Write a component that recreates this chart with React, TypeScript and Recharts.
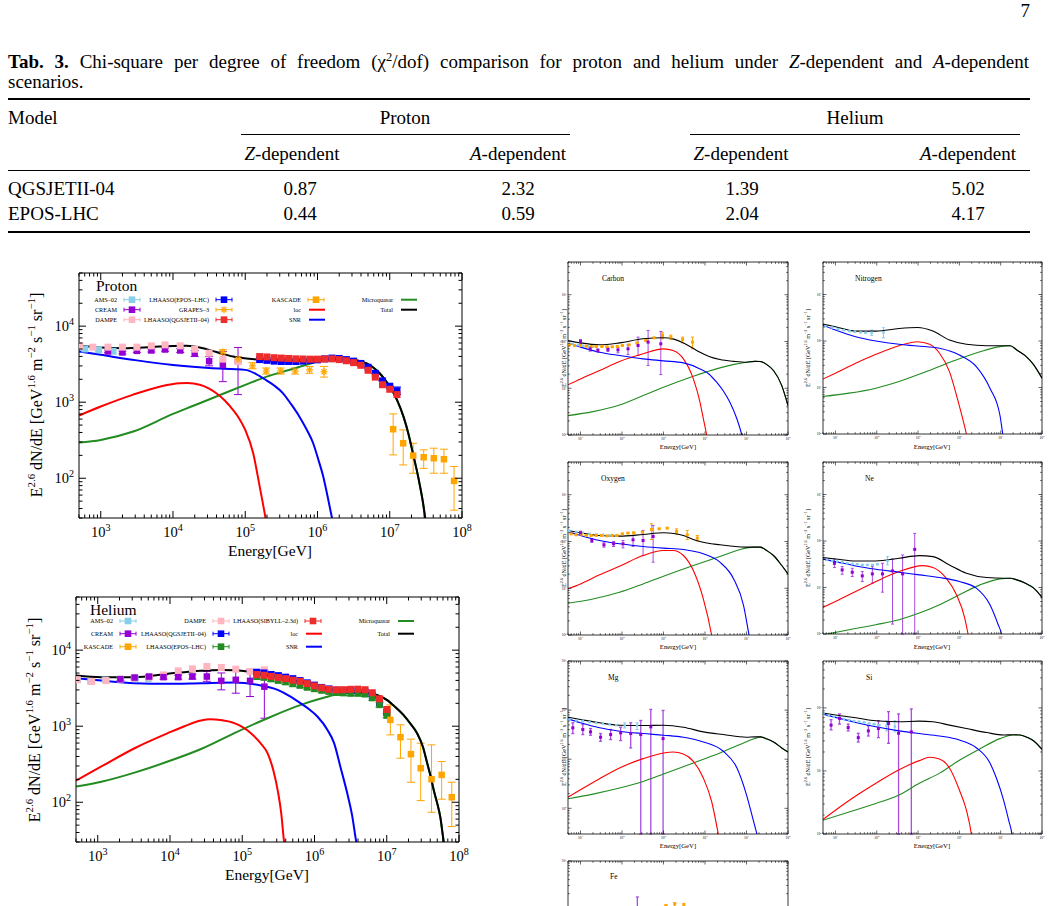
import React from 'react'
import { ComposedChart, Line, Scatter, XAxis, YAxis, ErrorBar } from 'recharts'

// every point: [log10 E (GeV), log10 E^2.6 dN/dE, log10 low, log10 high]
type P = number[]

// ---------------- Proton ----------------
const pTotal: P[] = [[2.7,3.746],[3.0,3.72],[3.31,3.71],[3.7,3.725],[4.0,3.74],[4.19,3.742],[4.37,3.72],[4.6,3.66],[4.83,3.6],[5.05,3.57],[5.29,3.557],[5.6,3.55],[5.99,3.55],[6.2,3.56],[6.35,3.566],[6.55,3.55],[6.68,3.51],[6.78,3.45],[6.86,3.38],[6.93,3.3],[7.0,3.206],[7.1,3.03],[7.19,2.81],[7.26,2.58],[7.32,2.33],[7.38,2.08],[7.42,1.89],[7.46,1.68],[7.49,1.48],[7.52,1.3]]
const pSnr: P[] = [[2.7,3.667],[3.0,3.623],[3.5,3.55],[4.0,3.49],[4.5,3.45],[5.0,3.425],[5.15,3.37],[5.29,3.29],[5.4,3.22],[5.52,3.12],[5.63,2.98],[5.75,2.81],[5.85,2.64],[5.94,2.46],[6.01,2.25],[6.08,2.02],[6.14,1.76],[6.2,1.48],[6.24,1.3]]
const pLoc: P[] = [[2.7,2.825],[3.0,2.943],[3.45,3.1],[3.8,3.2],[4.09,3.25],[4.2,3.252],[4.37,3.23],[4.5,3.18],[4.6,3.118],[4.72,3.02],[4.83,2.9],[4.92,2.78],[5.0,2.636],[5.11,2.33],[5.2,1.89],[5.28,1.48],[5.32,1.25]]
const pMq: P[] = [[2.7,2.469],[3.0,2.504],[3.45,2.614],[4.0,2.846],[4.3,2.96],[4.6,3.075],[5.0,3.228],[5.25,3.32],[5.52,3.4],[5.8,3.48],[6.01,3.535],[6.2,3.56],[6.35,3.566],[6.55,3.55],[6.68,3.51],[6.78,3.45],[6.86,3.38],[6.93,3.3],[7.0,3.206],[7.1,3.03],[7.19,2.81],[7.26,2.58],[7.32,2.33],[7.38,2.08],[7.42,1.89],[7.46,1.68],[7.49,1.48],[7.52,1.3]]

const pAms: P[] = [[2.78,3.7],[2.97,3.69],[3.17,3.67]]
const pDampe: P[] = [[2.71,3.741],[2.89,3.724],[3.1,3.724],[3.3,3.724],[3.5,3.724],[3.7,3.741],[3.89,3.754],[4.1,3.741],[4.3,3.697],[4.5,3.645],[4.69,3.566],[4.9,3.535]]
const pCream: P[] = [[3.1,3.667,3.65,3.685],[3.3,3.654,3.635,3.672],[3.5,3.675,3.655,3.695],[3.7,3.68,3.66,3.7],[3.89,3.693,3.67,3.715],[4.1,3.68,3.655,3.705],[4.3,3.64,3.6,3.68],[4.5,3.54,3.478,3.6],[4.69,3.49,3.27,3.667],[4.9,3.535,3.1,3.72]]
const pGrapes: P[] = [[4.69,3.66,3.63,3.69],[4.9,3.566,3.53,3.6],[5.1,3.478,3.44,3.52],[5.29,3.41,3.37,3.45],[5.49,3.41,3.37,3.45],[5.69,3.41,3.37,3.45],[5.89,3.425,3.38,3.47],[6.09,3.4,3.33,3.47]]
const pLhEpos: P[] = [[5.2,3.56],[5.3,3.55],[5.4,3.54],[5.5,3.535],[5.6,3.535],[5.7,3.535],[5.8,3.54],[5.9,3.55],[6.0,3.557],[6.1,3.57],[6.2,3.58],[6.3,3.575],[6.4,3.56],[6.5,3.54],[6.6,3.51],[6.7,3.46],[6.8,3.38],[6.9,3.28],[7.0,3.21],[7.1,3.15,3.1,3.2]]
const pLhQgs: P[] = [[5.2,3.6],[5.3,3.595],[5.4,3.585],[5.5,3.58],[5.6,3.575],[5.7,3.57],[5.8,3.568],[5.9,3.566],[6.0,3.566],[6.1,3.568],[6.2,3.57],[6.3,3.56],[6.4,3.545],[6.5,3.52],[6.6,3.485],[6.7,3.42],[6.8,3.33],[6.9,3.23],[7.0,3.17],[7.1,3.1]]
const pKascade: P[] = [[7.047,2.645,2.307,2.846],[7.186,2.46,2.175,2.636],[7.324,2.298,2.066,2.46],[7.47,2.276,2.13,2.373],[7.61,2.263,2.066,2.395],[7.75,2.25,2.066,2.382],[7.89,1.965,1.58,2.154]]

// ---------------- Helium ----------------
const hTotal: P[] = [[2.7,3.667],[3.05,3.645],[3.51,3.645],[3.97,3.69],[4.43,3.73],[4.7,3.74],[4.9,3.735],[5.12,3.71],[5.35,3.67],[5.58,3.63],[5.8,3.585],[6.04,3.544],[6.15,3.5],[6.27,3.478],[6.5,3.447],[6.7,3.44],[6.82,3.425],[6.92,3.39],[7.0,3.346],[7.12,3.25],[7.23,3.149],[7.33,3.03],[7.42,2.908],[7.5,2.73],[7.56,2.513],[7.61,2.33],[7.65,2.16],[7.7,1.98],[7.74,1.81],[7.79,1.47],[7.82,1.3]]
const hSnr: P[] = [[2.7,3.632],[3.05,3.6],[3.51,3.566],[3.97,3.557],[4.43,3.566],[4.89,3.575],[5.21,3.544],[5.49,3.478],[5.65,3.4],[5.81,3.3],[5.93,3.22],[6.04,3.127],[6.18,2.95],[6.27,2.78],[6.36,2.46],[6.45,2.13],[6.52,1.83],[6.58,1.47],[6.62,1.3]]
const hLoc: P[] = [[2.7,2.285],[3.05,2.47],[3.51,2.71],[3.97,2.908],[4.2,3.0],[4.43,3.075],[4.56,3.09],[4.7,3.08],[4.89,3.04],[5.0,2.99],[5.12,2.908],[5.25,2.78],[5.35,2.645],[5.43,2.42],[5.49,2.16],[5.54,1.85],[5.58,1.47],[5.61,1.3]]
const hMq: P[] = [[2.7,2.206],[3.05,2.27],[3.51,2.39],[3.97,2.535],[4.43,2.7],[4.89,2.908],[5.35,3.105],[5.81,3.28],[6.04,3.35],[6.27,3.41],[6.5,3.44],[6.7,3.44],[6.82,3.425],[6.92,3.39],[7.0,3.346],[7.12,3.25],[7.23,3.149],[7.33,3.03],[7.42,2.908],[7.5,2.73],[7.56,2.513],[7.61,2.33],[7.65,2.16],[7.7,1.98],[7.74,1.81],[7.79,1.47],[7.82,1.3]]

const hAms: P[] = [[2.72,3.61],[2.9,3.59],[3.1,3.61],[3.31,3.62],[3.52,3.62],[3.7,3.62]]
const hDampe: P[] = [[2.715,3.61],[2.917,3.588],[3.115,3.6],[3.313,3.618],[3.506,3.632],[3.713,3.645],[3.91,3.675],[4.114,3.728],[4.31,3.754],[4.51,3.785],[4.71,3.772],[4.91,3.75],[5.108,3.72],[5.306,3.741]]
const hCream: P[] = [[3.313,3.618,3.6,3.636],[3.51,3.64,3.62,3.66],[3.71,3.653,3.63,3.675],[3.91,3.645,3.62,3.67],[4.114,3.645,3.62,3.67],[4.31,3.653,3.62,3.685],[4.51,3.653,3.59,3.72],[4.71,3.596,3.478,3.7],[4.91,3.61,3.434,3.74],[5.108,3.596,3.39,3.74],[5.306,3.52,3.105,3.74]]
const hLhSib: P[] = [[5.2,3.68],[5.3,3.67],[5.4,3.655],[5.5,3.64],[5.6,3.625],[5.7,3.605],[5.8,3.59],[5.9,3.56],[6.0,3.53],[6.1,3.505],[6.2,3.485],[6.3,3.478],[6.4,3.48],[6.5,3.485],[6.6,3.487],[6.7,3.48],[6.8,3.44],[6.9,3.36],[7.0,3.22]]
const hLhQgs: P[] = [[5.2,3.71],[5.3,3.7],[5.4,3.68],[5.5,3.665],[5.6,3.645],[5.7,3.625],[5.8,3.6],[5.9,3.57],[6.0,3.54],[6.1,3.51],[6.2,3.49],[6.3,3.475],[6.4,3.47],[6.5,3.47],[6.6,3.465],[6.7,3.45],[6.8,3.4],[6.9,3.31],[7.0,3.18]]
const hLhEpos: P[] = [[5.2,3.65,3.62,3.68],[5.3,3.64,3.61,3.67],[5.4,3.62,3.59,3.65],[5.5,3.6,3.57,3.63],[5.6,3.58,3.55,3.61],[5.7,3.555,3.525,3.585],[5.8,3.535,3.505,3.565],[5.9,3.51,3.48,3.54],[6.0,3.49,3.46,3.52],[6.1,3.47,3.44,3.5],[6.2,3.455,3.425,3.485],[6.3,3.44,3.41,3.47],[6.4,3.435,3.405,3.465],[6.5,3.43,3.4,3.46],[6.6,3.43,3.4,3.46],[6.7,3.42,3.39,3.45],[6.8,3.37,3.34,3.4],[6.9,3.28,3.25,3.31],[7.0,3.14,3.11,3.17]]
const hKascade: P[] = [[7.05,3.083,2.886,3.28],[7.19,2.855,2.579,3.018],[7.335,2.632,2.263,2.83],[7.47,2.447,2.022,2.776],[7.62,2.303,1.868,2.754],[7.76,2.36,2.04,2.535],[7.9,2.066,1.68,2.263]]

// ---------------- Carbon ----------------
const cTotal: P[] = [[2.69,2.02],[3.0,1.97],[3.46,1.93],[3.94,1.97],[4.51,2.057],[5.0,2.079],[5.25,2.05],[5.48,1.97],[5.7,1.86],[5.88,1.77],[6.1,1.68],[6.36,1.614],[6.7,1.575],[7.0,1.557],[7.2,1.575],[7.33,1.571],[7.5,1.5],[7.65,1.379],[7.85,1.057],[8.0,0.629]]
const cSnr: P[] = [[2.69,1.97],[3.0,1.879],[3.46,1.771],[3.94,1.7],[4.51,1.629],[5.0,1.586],[5.48,1.543],[5.88,1.414],[6.1,1.3],[6.28,1.129],[6.45,0.93],[6.6,0.7],[6.77,0.343],[6.89,0],[6.95,-0.2]]
const cLoc: P[] = [[2.69,1.071],[3.0,1.2],[3.46,1.379],[3.94,1.571],[4.51,1.736],[5.0,1.843],[5.23,1.807],[5.48,1.629],[5.72,1.2],[5.88,0.7],[5.96,0.35],[6.04,0],[6.08,-0.2]]
const cMq: P[] = [[2.69,0.414],[3.3,0.5],[3.94,0.643],[4.51,0.843],[5.0,1.021],[5.72,1.257],[6.36,1.436],[6.7,1.51],[7.0,1.557],[7.2,1.575],[7.33,1.571],[7.5,1.5],[7.65,1.379],[7.85,1.057],[8.0,0.629]]
const cPurple: P[] = [[3.0,2.0,1.95,2.043],[3.234,1.843,1.793,1.879],[3.419,1.807,1.771,1.843],[3.661,1.829,1.786,1.864],[3.903,1.821,1.757,1.871],[4.145,1.843,1.721,1.929],[4.387,1.914,1.7,2.093],[4.629,1.986,1.486,2.236],[4.935,1.95,1.293,2.214]]
const cOrange: P[] = [[2.734,1.929],[2.855,1.914],[3.0,1.914],[3.137,1.9],[3.258,1.893],[3.379,1.893],[3.516,1.893],[3.637,1.886],[3.766,1.886],[3.887,1.893],[4.008,1.914],[4.169,1.929],[4.363,1.971],[4.573,2.021],[4.774,2.079],[4.976,2.129,2.057,2.186],[5.177,2.093,2.043,2.136],[5.46,2.043,1.971,2.093],[5.7,1.986,1.843,2.093]]
const cBlue: P[] = [[2.72,1.97],[2.81,1.95],[2.94,1.93],[3.06,1.91],[3.18,1.9],[3.3,1.89]]

// ---------------- Nitrogen ----------------
const nTotal: P[] = [[2.69,2.364],[3.0,2.307],[3.49,2.214],[3.98,2.214],[4.54,2.27],[4.99,2.29],[5.36,2.214],[5.76,2.02],[6.17,1.93],[6.66,1.9],[7.07,1.9],[7.23,1.9],[7.39,1.807],[7.6,1.68],[7.8,1.486],[8.0,1.2]]
const nSnr: P[] = [[2.69,2.343],[3.0,2.236],[3.49,2.093],[3.98,2.0],[4.54,1.929],[4.99,1.893],[5.52,1.843],[6.0,1.7],[6.41,1.45],[6.74,0.986],[6.98,0.414],[7.05,0],[7.1,-0.3]]
const nLoc: P[] = [[2.69,1.179],[3.0,1.307],[3.49,1.521],[3.98,1.714],[4.54,1.9],[4.99,1.986],[5.28,1.929],[5.52,1.736],[5.76,1.343],[5.97,0.7],[6.17,0],[6.22,-0.2]]
const nMq: P[] = [[2.69,0.807],[3.33,0.879],[3.98,0.986],[4.54,1.129],[5.2,1.343],[5.85,1.571],[6.5,1.771],[6.98,1.879],[7.23,1.9],[7.39,1.807],[7.6,1.68],[7.8,1.486],[8.0,1.2]]
const nBlue: P[] = [[2.756,2.321],[2.919,2.293],[3.065,2.257],[3.203,2.236],[3.341,2.214],[3.472,2.2],[3.61,2.186],[3.732,2.179],[3.878,2.179,2.121,2.236],[4.163,2.186,2.071,2.286]]

// ---------------- Oxygen ----------------
const oTotal: P[] = [[2.69,2.236],[3.0,2.186],[3.46,2.129],[3.94,2.114],[4.51,2.15],[5.0,2.186],[5.25,2.17],[5.48,2.129],[5.7,2.05],[5.88,2.0],[6.36,1.929],[7.0,1.879],[7.17,1.879],[7.33,1.879],[7.5,1.8],[7.65,1.7],[7.85,1.486],[8.0,1.307]]
const oSnr: P[] = [[2.69,2.214],[3.0,2.129],[3.46,2.021],[3.94,1.95],[4.51,1.893],[5.0,1.857],[5.48,1.829],[5.96,1.736],[6.36,1.557],[6.69,1.2],[6.93,0.629],[7.06,0],[7.1,-0.2]]
const oLoc: P[] = [[2.69,0.986],[3.0,1.093],[3.46,1.286],[3.94,1.471],[4.51,1.7],[5.0,1.807],[5.23,1.807],[5.48,1.7],[5.72,1.379],[5.96,0.771],[6.16,0],[6.2,-0.2]]
const oMq: P[] = [[2.69,0.679],[3.3,0.771],[3.94,0.914],[4.51,1.093],[5.0,1.257],[5.72,1.486],[6.36,1.679],[6.85,1.829],[7.17,1.879],[7.33,1.879],[7.5,1.8],[7.65,1.7],[7.85,1.486],[8.0,1.307]]
const oOrange: P[] = [[2.774,2.164],[2.895,2.143],[3.016,2.157],[3.137,2.129],[3.258,2.129],[3.379,2.129],[3.5,2.129],[3.637,2.121],[3.766,2.129],[3.879,2.129],[4.008,2.164],[4.145,2.179],[4.282,2.186],[4.492,2.2],[4.71,2.257,2.043,2.379],[4.895,2.271],[5.089,2.286],[5.315,2.214,2.157,2.271],[5.573,2.143,2.043,2.236],[5.815,2.071,2.014,2.129]]
const oPurple: P[] = [[3.0,2.186,2.15,2.22],[3.274,2.021,1.98,2.06],[3.565,1.929,1.879,1.971],[3.798,1.95,1.893,2.0],[4.024,1.95,1.864,2.021],[4.266,2.036,1.893,2.129],[4.508,2.021,1.7,2.236],[4.75,2.107,1.557,2.343]]
const oBlue: P[] = [[2.73,2.229],[2.895,2.207],[3.056,2.186],[3.218,2.164],[3.379,2.15],[3.54,2.143],[3.7,2.129],[3.863,2.129]]

// ---------------- Ne ----------------
const neTotal: P[] = [[2.69,1.643],[3.0,1.614],[3.49,1.571],[3.98,1.571],[4.54,1.629],[5.03,1.686],[5.36,1.664],[5.76,1.486],[6.17,1.307],[6.66,1.214],[7.07,1.2],[7.23,1.2],[7.39,1.164],[7.6,1.09],[7.8,0.986],[8.0,0.786]]
const neSnr: P[] = [[2.69,1.614],[3.0,1.557],[3.49,1.464],[3.98,1.393],[4.54,1.329],[5.03,1.271],[5.52,1.214],[6.0,1.129],[6.41,0.986],[6.74,0.629],[6.94,0.2],[7.02,0],[7.06,-0.2]]
const neLoc: P[] = [[2.69,0.571],[3.0,0.7],[3.49,0.914],[3.98,1.129],[4.54,1.343],[5.11,1.471],[5.36,1.429],[5.68,1.2],[5.93,0.843],[6.13,0.343],[6.21,0],[6.25,-0.2]]
const neMq: P[] = [[2.69,-0.02],[3.33,0.093],[3.98,0.2],[4.54,0.307],[5.03,0.45],[5.52,0.629],[6.0,0.843],[6.5,1.057],[6.98,1.186],[7.23,1.2],[7.39,1.164],[7.6,1.09],[7.8,0.986],[8.0,0.786]]
const nePurple: P[] = [[2.976,1.521,1.429,1.614],[3.163,1.379,1.286,1.45],[3.407,1.329,1.236,1.414],[3.65,1.25,1.129,1.343],[3.894,1.293,1.093,1.45],[4.138,1.293,0.9,1.521],[4.382,1.357,0.214,1.614],[4.626,1.293,0,1.7],[4.919,1.821,0,2.164]]
const neBlue: P[] = [[2.797,1.593],[2.919,1.571],[3.041,1.557],[3.163,1.543],[3.285,1.521],[3.407,1.507],[3.528,1.5],[3.65,1.486],[3.772,1.486],[3.894,1.486],[4.016,1.5],[4.26,1.571,1.486,1.664]]

// ---------------- Mg ----------------
const mgTotal: P[] = [[2.69,1.857],[3.0,1.809],[3.46,1.741],[3.94,1.693],[4.51,1.686],[5.0,1.693],[5.48,1.652],[5.96,1.557],[6.44,1.502],[7.0,1.448],[7.2,1.455],[7.33,1.455],[7.5,1.41],[7.65,1.352],[7.85,1.23],[8.0,1.148]]
const mgSnr: P[] = [[2.69,1.823],[3.0,1.741],[3.46,1.639],[3.94,1.571],[4.51,1.523],[5.0,1.489],[5.48,1.448],[5.96,1.352],[6.44,1.162],[6.77,0.821],[7.0,0.275],[7.15,-0.2],[7.25,-0.52],[7.3,-0.7]]
const mgLoc: P[] = [[2.69,0.221],[3.0,0.378],[3.46,0.603],[3.94,0.821],[4.51,1.012],[5.0,1.127],[5.23,1.148],[5.48,1.107],[5.72,0.957],[5.96,0.616],[6.16,0.139],[6.32,-0.52],[6.36,-0.7]]
const mgMq: P[] = [[2.69,0.194],[3.3,0.289],[3.94,0.412],[4.51,0.548],[5.0,0.698],[5.72,0.923],[6.36,1.127],[6.93,1.332],[7.2,1.42],[7.33,1.455],[7.5,1.41],[7.65,1.352],[7.85,1.23],[8.0,1.148]]
const mgPurple: P[] = [[2.815,1.639,1.523,1.741],[3.056,1.605,1.502,1.707],[3.242,1.557,1.489,1.625],[3.484,1.448,1.366,1.523],[3.726,1.502,1.4,1.605],[3.968,1.536,1.38,1.652],[4.21,1.523,1.23,1.741],[4.452,1.502,-0.52,1.789],[4.694,1.659,-0.52,2.014],[4.99,1.42,-0.52,1.993]]
const mgBlue: P[] = [[2.734,1.809],[2.895,1.789],[3.056,1.775],[3.218,1.755],[3.379,1.741],[3.54,1.727],[3.7,1.707],[3.863,1.693],[4.065,1.686,1.636,1.741],[4.363,1.686,1.605,1.741]]

// ---------------- Si ----------------
const siTotal: P[] = [[2.69,1.92],[3.0,1.888],[3.49,1.845],[3.98,1.796],[4.54,1.78],[5.03,1.791],[5.36,1.78],[5.76,1.727],[6.17,1.673],[6.66,1.609],[7.07,1.571],[7.3,1.575],[7.47,1.571],[7.65,1.53],[7.8,1.475],[8.0,1.341]]
const siSnr: P[] = [[2.69,1.904],[3.0,1.85],[3.49,1.77],[3.98,1.7],[4.54,1.636],[5.03,1.593],[5.52,1.555],[6.0,1.491],[6.41,1.368],[6.74,1.127],[6.9,0.88],[7.07,0.538],[7.2,0.2],[7.27,0],[7.3,-0.2]]
const siLoc: P[] = [[2.69,0.227],[3.0,0.377],[3.49,0.602],[3.98,0.806],[4.54,1.02],[5.03,1.164],[5.28,1.218],[5.52,1.191],[5.76,1.047],[6.0,0.698],[6.17,0.377],[6.29,0],[6.33,-0.2]]
const siMq: P[] = [[2.69,0.216],[3.33,0.35],[3.98,0.484],[4.54,0.618],[5.03,0.806],[5.52,0.966],[6.0,1.17],[6.5,1.352],[6.98,1.513],[7.3,1.57],[7.47,1.571],[7.65,1.53],[7.8,1.475],[8.0,1.341]]
const siPurple: P[] = [[2.894,1.727,1.652,1.813],[3.098,1.834,1.743,1.904],[3.309,1.689,1.636,1.743],[3.553,1.529,1.459,1.598],[3.797,1.636,1.555,1.716],[4.04,1.673,1.529,1.796],[4.285,1.754,1.438,1.941],[4.528,1.598,0,1.904],[4.837,1.62,0,1.984]]
const siBlue: P[] = [[2.715,1.904],[2.837,1.877],[2.959,1.861],[3.081,1.845],[3.203,1.823],[3.325,1.807],[3.447,1.791],[3.569,1.78],[3.691,1.77],[3.813,1.754],[3.935,1.743],[4.057,1.727],[4.236,1.716,1.636,1.796],[4.439,1.705,1.62,1.796]]

// ---------------- Fe (mostly below the page edge) ----------------
const fePurple: P[] = [[4.37,1.6,0.8,2.23]]
const feOrange: P[] = [[5.06,2.05],[5.27,2.08,2.0,2.11],[5.49,2.06,2.0,2.09]]

// table
const tableModels = ['QGSJETII-04', 'EPOS-LHC']
const protonZ = ['0.87', '0.44']
const protonA = ['2.32', '0.59']
const heliumZ = ['1.39', '2.04']
const heliumA = ['5.02', '4.17']

const SERIF = '"Liberation Serif", "Times New Roman", serif'
const COL = {
  loc: '#ff0000', snr: '#0000ff', mq: '#228b22', total: '#000000',
  ams: '#87ceeb', cream: '#9400d3', dampe: '#ffb6c1', orange: '#ffa500',
  lhBlue: '#0000ff', lhRed: '#ee2c2c', lhGreen: '#228b22', purpleErr: '#a64ce0',
}
const X_DOMAIN: [number, number] = [500, 1e8]

type Series = { pts: P[]; color: string; size: number; shape?: 'sq' | 'star'; err?: string; errW?: number }
type Spec = {
  box: [number, number, number, number]
  margin: { top: number; right: number; bottom: number; left: number }
  yDomain: [number, number]
  big: boolean
  xLabels?: boolean
  yLabelMax?: number
  curves: { pts: P[]; color: string }[]
  series: Series[]
}

const toCurve = (pts: P[]) => pts.map(([lx, ly]) => ({ x: 10 ** lx, y: 10 ** ly }))
const toPts = (pts: P[]) =>
  pts.map(([lx, ly, lo, hi]) => {
    const y = 10 ** ly
    return { x: 10 ** lx, y, err: lo === undefined ? [0, 0] : [y - 10 ** lo, 10 ** hi - y] }
  })

function logTicks(lo: number, hi: number) {
  const out: number[] = []
  for (let d = Math.floor(Math.log10(lo)); d <= Math.ceil(Math.log10(hi)); d++)
    for (let m = 1; m <= 9; m++) {
      const v = m * 10 ** d
      if (v >= lo * 0.999 && v <= hi * 1.001) out.push(v)
    }
  return out
}

function Pow({ x, y, e, fs, anchor }: { x: number; y: number; e: number; fs: number; anchor: string }) {
  return (
    <text x={x} y={y} textAnchor={anchor as any} fontSize={fs} fontFamily={SERIF} fill="#000">
      10<tspan dy={-fs * 0.42} fontSize={fs * 0.7}>{e}</tspan>
    </text>
  )
}

type Side = 'bottom' | 'top' | 'left' | 'right'
const makeTick = (side: Side, big: boolean, labels = true, labelMaxY = 1e9) => (props: any) => {
  const { x, y, payload } = props
  const v = Number(payload?.value)
  const e = Math.round(Math.log10(v))
  const major = Math.abs(Math.log10(v) - e) < 1e-6
  const L = big ? (major ? 7 : 3.5) : major ? 3.5 : 1.8
  let x2 = x
  let y2 = y
  if (side === 'bottom') y2 = y - L
  if (side === 'top') y2 = y + L
  if (side === 'left') x2 = x + L
  if (side === 'right') x2 = x - L
  const fs = big ? 14.5 : 3.6
  return (
    <g>
      <line x1={x} y1={y} x2={x2} y2={y2} stroke="#000" strokeWidth={big ? 1 : 0.6} />
      {labels && major && side === 'bottom' && <Pow x={x} y={y + (big ? 19 : 5)} e={e} fs={fs} anchor="middle" />}
      {labels && major && side === 'left' && y < labelMaxY && <Pow x={x - (big ? 5 : 1.5)} y={y + (big ? 5 : 1.3)} e={e} fs={fs} anchor="end" />}
    </g>
  )
}

const squareShape = (size: number, color: string) => (p: any) =>
  p.cx == null ? <g /> : <rect x={p.cx - size / 2} y={p.cy - size / 2} width={size} height={size} fill={color} />

const starShape = (size: number, color: string) => (p: any) => {
  if (p.cx == null) return <g />
  const r = size / 2
  const d = r * 0.72
  return (
    <g stroke={color} strokeWidth={1.2}>
      <line x1={p.cx - r} y1={p.cy} x2={p.cx + r} y2={p.cy} />
      <line x1={p.cx} y1={p.cy - r} x2={p.cx} y2={p.cy + r} />
      <line x1={p.cx - d} y1={p.cy - d} x2={p.cx + d} y2={p.cy + d} />
      <line x1={p.cx - d} y1={p.cy + d} x2={p.cx + d} y2={p.cy - d} />
    </g>
  )
}

function Plot({ spec }: { spec: Spec }) {
  const [left, top, w, h] = spec.box
  const big = spec.big
  const xt = logTicks(X_DOMAIN[0], X_DOMAIN[1])
  const yt = logTicks(spec.yDomain[0], spec.yDomain[1])
  const axisLine = { stroke: '#000', strokeWidth: big ? 1 : 0.8 }
  const common = { type: 'number' as const, scale: 'log' as const, allowDataOverflow: true, interval: 0 as const, tickLine: false, tickSize: 0, tickMargin: 0, axisLine }
  // axes are 1px thick, so every margin is one less than the plot offset
  const m = spec.margin
  const margin = { top: m.top - 1, right: m.right - 1, bottom: m.bottom - 1, left: m.left - 1 }
  return (
    <div style={{ position: 'absolute', left, top, width: w, height: h }}>
      <ComposedChart width={w} height={h} margin={margin}>
        <XAxis {...common} xAxisId="b" orientation="bottom" dataKey="x" domain={X_DOMAIN} ticks={xt} height={1} tick={makeTick('bottom', big, spec.xLabels !== false)} />
        <XAxis {...common} xAxisId="t" orientation="top" dataKey="x" domain={X_DOMAIN} ticks={xt} height={1} tick={makeTick('top', big)} />
        <YAxis {...common} yAxisId="l" orientation="left" dataKey="y" domain={spec.yDomain} ticks={yt} width={1} tick={makeTick('left', big, true, spec.yLabelMax)} />
        <YAxis {...common} yAxisId="r" orientation="right" dataKey="y" domain={spec.yDomain} ticks={yt} width={1} tick={makeTick('right', big)} />
        {spec.series.map((s, i) => (
          <Scatter
            key={'s' + i}
            xAxisId="b"
            yAxisId="l"
            data={toPts(s.pts)}
            fill={s.color}
            isAnimationActive={false}
            shape={s.shape === 'star' ? starShape(s.size, s.color) : squareShape(s.size, s.color)}
          >
            {s.pts.some((q) => q.length > 2) && (
              <ErrorBar dataKey="err" direction="y" stroke={s.err ?? s.color} strokeWidth={s.errW ?? 1} width={big ? 4 : 1.5} />
            )}
          </Scatter>
        ))}
        {spec.curves.map((c, i) => (
          <Line
            key={'c' + i}
            xAxisId="b"
            yAxisId="l"
            data={toCurve(c.pts)}
            dataKey="y"
            type="monotone"
            stroke={c.color}
            strokeWidth={big ? 2 : 1.1}
            dot={false}
            activeDot={false}
            isAnimationActive={false}
          />
        ))}
      </ComposedChart>
    </div>
  )
}

const curves4 = (loc: P[], snr: P[], mq: P[], total: P[]) => [
  { pts: mq, color: COL.mq },
  { pts: loc, color: COL.loc },
  { pts: snr, color: COL.snr },
  { pts: total, color: COL.total },
]

const protonSpec: Spec = {
  box: [0, 260, 480, 300], margin: { top: 13, right: 18, bottom: 42, left: 79 }, yDomain: [30, 5e4], big: true,
  curves: curves4(pLoc, pSnr, pMq, pTotal),
  series: [
    { pts: pAms, color: COL.ams, size: 7 },
    { pts: pCream, color: COL.cream, size: 6.5 },
    { pts: pDampe, color: COL.dampe, size: 7 },
    { pts: pGrapes, color: COL.orange, size: 7, shape: 'star' },
    { pts: pLhEpos, color: COL.lhBlue, size: 7 },
    { pts: pLhQgs, color: COL.lhRed, size: 7 },
    { pts: pKascade, color: COL.orange, size: 6.5 },
  ],
}
const heliumSpec: Spec = {
  box: [0, 590, 480, 310], margin: { top: 7, right: 21, bottom: 58, left: 76 }, yDomain: [30, 5e4], big: true,
  curves: curves4(hLoc, hSnr, hMq, hTotal),
  series: [
    { pts: hAms, color: COL.ams, size: 6.5 },
    { pts: hDampe, color: COL.dampe, size: 7 },
    { pts: hCream, color: COL.cream, size: 6.5 },
    { pts: hLhQgs, color: COL.lhBlue, size: 7 },
    { pts: hLhEpos, color: COL.lhGreen, size: 6.5 },
    { pts: hLhSib, color: COL.lhRed, size: 7 },
    { pts: hKascade, color: COL.orange, size: 6.5 },
  ],
}

const sm = (left: boolean, top: number) => ({
  box: (left ? [550, top, 250, 200] : [800, top, 252, 200]) as [number, number, number, number],
  margin: left ? { top: 7, right: 12, bottom: 20, left: 18 } : { top: 7, right: 10, bottom: 21, left: 23 },
})

const smallSpecs: Spec[] = [
  { ...sm(true, 255), yDomain: [1, 5012], big: false, curves: curves4(cLoc, cSnr, cMq, cTotal),
    series: [{ pts: cBlue, color: COL.ams, size: 2.5 }, { pts: cOrange, color: COL.orange, size: 3 }, { pts: cPurple, color: COL.cream, size: 3, err: COL.purpleErr }] },
  { ...sm(false, 255), yDomain: [1, 5012], big: false, curves: curves4(nLoc, nSnr, nMq, nTotal),
    series: [{ pts: nBlue, color: COL.ams, size: 2.5 }] },
  { ...sm(true, 455), yDomain: [1, 5012], big: false, curves: curves4(oLoc, oSnr, oMq, oTotal),
    series: [{ pts: oBlue, color: COL.ams, size: 2.5 }, { pts: oOrange, color: COL.orange, size: 3 }, { pts: oPurple, color: COL.cream, size: 3, err: COL.purpleErr }] },
  { ...sm(false, 455), yDomain: [1, 5012], big: false, curves: curves4(neLoc, neSnr, neMq, neTotal),
    series: [{ pts: neBlue, color: COL.ams, size: 2.5 }, { pts: nePurple, color: COL.cream, size: 3, err: COL.purpleErr }] },
  { ...sm(true, 655), margin: { top: 6, right: 12, bottom: 21, left: 18 }, yDomain: [0.3, 1000], big: false, curves: curves4(mgLoc, mgSnr, mgMq, mgTotal),
    series: [{ pts: mgBlue, color: COL.ams, size: 2.5 }, { pts: mgPurple, color: COL.cream, size: 3, err: COL.purpleErr, errW: 1.3 }] },
  { ...sm(false, 655), margin: { top: 6, right: 10, bottom: 21, left: 23 }, yDomain: [1, 555], big: false, curves: curves4(siLoc, siSnr, siMq, siTotal),
    series: [{ pts: siBlue, color: COL.ams, size: 2.5 }, { pts: siPurple, color: COL.cream, size: 3, err: COL.purpleErr, errW: 1.3 }] },
  { ...sm(true, 855), margin: { top: 6, right: 12, bottom: 21, left: 18 }, yDomain: [0.2, 1000], big: false, xLabels: false, yLabelMax: 40, curves: [],
    series: [{ pts: feOrange, color: COL.orange, size: 3 }, { pts: fePurple, color: COL.cream, size: 3, err: COL.purpleErr, errW: 1.3 }] },
]

const smallTitles = [
  { t: 'Carbon', x: 602, y: 280.5, lx: 678, ly: 449, yx: 566, yy: 348 },
  { t: 'Nitrogen', x: 855, y: 280.5, lx: 932, ly: 449, yx: 810, yy: 348 },
  { t: 'Oxygen', x: 601, y: 480.5, lx: 678, ly: 649, yx: 566, yy: 548 },
  { t: 'Ne', x: 865, y: 480.5, lx: 932, ly: 649, yx: 810, yy: 548 },
  { t: 'Mg', x: 608, y: 680, lx: 678, ly: 848, yx: 566, yy: 747 },
  { t: 'Si', x: 866, y: 680, lx: 932, ly: 848, yx: 810, yy: 747 },
]

const YLABEL: [string, boolean][] = [['E', false], ['2.6', true], [' dN/dE [GeV', false], ['1.6', true], [' m', false], ['−2', true], [' s', false], ['−1', true], [' sr', false], ['−1', true], [']', false]]

function SupText({ x, y, fs, rotate, anchor = 'middle' }: { x: number; y: number; fs: number; rotate?: boolean; anchor?: string }) {
  let prevSup = false
  return (
    <text x={x} y={y} fontSize={fs} fontFamily={SERIF} textAnchor={anchor as any} transform={rotate ? `rotate(-90 ${x} ${y})` : undefined} style={{ whiteSpace: 'pre' }}>
      {YLABEL.map(([s, sup], i) => {
        const dy = sup === prevSup ? 0 : sup ? -fs * 0.42 : fs * 0.42
        prevSup = sup
        return (
          <tspan key={i} dy={dy} fontSize={sup ? fs * 0.68 : fs}>{s}</tspan>
        )
      })}
    </text>
  )
}

type Leg = { label: string; x: number; row: number; kind: 'sq' | 'star' | 'line'; color: string }
const protonLegend: Leg[] = [
  { label: 'AMS–02', x: 117, row: 0, kind: 'sq', color: COL.ams },
  { label: 'CREAM', x: 117, row: 1, kind: 'sq', color: COL.cream },
  { label: 'DAMPE', x: 117, row: 2, kind: 'sq', color: COL.dampe },
  { label: 'LHAASO(EPOS–LHC)', x: 209, row: 0, kind: 'sq', color: COL.lhBlue },
  { label: 'GRAPES–3', x: 209, row: 1, kind: 'star', color: COL.orange },
  { label: 'LHAASO(QGSJETII–04)', x: 209, row: 2, kind: 'sq', color: COL.lhRed },
  { label: 'KASCADE', x: 301, row: 0, kind: 'sq', color: COL.orange },
  { label: 'loc', x: 301, row: 1, kind: 'line', color: COL.loc },
  { label: 'SNR', x: 301, row: 2, kind: 'line', color: COL.snr },
  { label: 'Microquasar', x: 393, row: 0, kind: 'line', color: COL.mq },
  { label: 'Total', x: 393, row: 1, kind: 'line', color: COL.total },
]
const heliumLegend: Leg[] = [
  { label: 'AMS–02', x: 113, row: 0, kind: 'sq', color: COL.ams },
  { label: 'CREAM', x: 113, row: 1, kind: 'sq', color: COL.cream },
  { label: 'KASCADE', x: 113, row: 2, kind: 'sq', color: COL.orange },
  { label: 'DAMPE', x: 206, row: 0, kind: 'sq', color: COL.dampe },
  { label: 'LHAASO(QGSJETII–04)', x: 206, row: 1, kind: 'sq', color: COL.lhBlue },
  { label: 'LHAASO(EPOS–LHC)', x: 206, row: 2, kind: 'sq', color: COL.lhGreen },
  { label: 'LHAASO(SIBYLL–2.3d)', x: 298, row: 0, kind: 'sq', color: COL.lhRed },
  { label: 'loc', x: 298, row: 1, kind: 'line', color: COL.loc },
  { label: 'SNR', x: 298, row: 2, kind: 'line', color: COL.snr },
  { label: 'Microquasar', x: 390, row: 0, kind: 'line', color: COL.mq },
  { label: 'Total', x: 390, row: 1, kind: 'line', color: COL.total },
]

function Legend({ items, rows }: { items: Leg[]; rows: number[] }) {
  return (
    <g>
      {items.map((it, i) => {
        const y = rows[it.row]
        const cx = it.x + 15
        return (
          <g key={i}>
            <text x={it.x} y={y + 2} fontSize={6.2} fontFamily={SERIF} textAnchor="end">{it.label}</text>
            {it.kind === 'line' && <line x1={it.x + 8} x2={it.x + 24} y1={y} y2={y} stroke={it.color} strokeWidth={2} />}
            {it.kind !== 'line' && (
              <g stroke={it.color} strokeWidth={1}>
                <line x1={cx - 8} x2={cx + 8} y1={y} y2={y} />
                <line x1={cx - 8} x2={cx - 8} y1={y - 2} y2={y + 2} />
                <line x1={cx + 8} x2={cx + 8} y1={y - 2} y2={y + 2} />
              </g>
            )}
            {it.kind === 'sq' && <rect x={cx - 3.3} y={y - 3.3} width={6.6} height={6.6} fill={it.color} />}
            {it.kind === 'star' && (
              <g stroke={it.color} strokeWidth={1.2}>
                <line x1={cx - 3.5} x2={cx + 3.5} y1={y} y2={y} />
                <line x1={cx} x2={cx} y1={y - 3.5} y2={y + 3.5} />
                <line x1={cx - 2.5} x2={cx + 2.5} y1={y - 2.5} y2={y + 2.5} />
                <line x1={cx - 2.5} x2={cx + 2.5} y1={y + 2.5} y2={y - 2.5} />
              </g>
            )}
          </g>
        )
      })}
    </g>
  )
}

function T({ x, y, children, size = 19, align = 'left', bold = false }: { x: number; y: number; children: React.ReactNode; size?: number; align?: string; bold?: boolean }) {
  const tx = align === 'center' ? 'translateX(-50%)' : align === 'right' ? 'translateX(-100%)' : 'none'
  return (
    <div style={{ position: 'absolute', left: x, top: y - size * 0.56, fontSize: size, lineHeight: `${size}px`, whiteSpace: 'nowrap', transform: tx, fontWeight: bold ? 700 : 400 }}>
      {children}
    </div>
  )
}

const Rule = ({ x, y, w, h }: { x: number; y: number; w: number; h: number }) => (
  <div style={{ position: 'absolute', left: x, top: y, width: w, height: h, background: '#000' }} />
)

export default function App() {
  const dep = (l: string) => (
    <>
      <i>{l}</i>-dependent
    </>
  )
  return (
    <div style={{ position: 'absolute', left: 0, top: 0, width: 1052, height: 906, overflow: 'hidden', background: '#fff', fontFamily: SERIF, color: '#000' }}>
      <T x={1030} y={12} align="right">7</T>
      <div style={{ position: 'absolute', left: 8, top: 51, width: 1021, fontSize: 19, lineHeight: '21px', textAlign: 'justify', textAlignLast: 'justify' }}>
        <b>Tab. 3.</b> Chi-square per degree of freedom (χ<sup style={{ fontSize: 12.5, lineHeight: 0 }}>2</sup>/dof) comparison for proton and helium under <i>Z</i>-dependent and <i>A</i>-dependent
      </div>
      <T x={8} y={83} size={19}>scenarios.</T>

      <Rule x={8} y={98} w={1022} h={2} />
      <T x={8} y={119}>Model</T>
      <T x={405} y={119} align="center">Proton</T>
      <T x={855} y={119} align="center">Helium</T>
      <Rule x={241} y={133.5} w={329} h={1.3} />
      <Rule x={690} y={133.5} w={330} h={1.3} />
      <T x={292} y={155} align="center">{dep('Z')}</T>
      <T x={518} y={155} align="center">{dep('A')}</T>
      <T x={741} y={155} align="center">{dep('Z')}</T>
      <T x={968} y={155} align="center">{dep('A')}</T>
      <Rule x={8} y={169.5} w={1022} h={1} />
      {tableModels.map((m, i) => (
        <React.Fragment key={m}>
          <T x={8} y={190 + i * 25}>{m}</T>
          <T x={300} y={190 + i * 25} align="center">{protonZ[i]}</T>
          <T x={518} y={190 + i * 25} align="center">{protonA[i]}</T>
          <T x={742} y={190 + i * 25} align="center">{heliumZ[i]}</T>
          <T x={968} y={190 + i * 25} align="center">{heliumA[i]}</T>
        </React.Fragment>
      ))}
      <Rule x={8} y={231} w={1022} h={2} />

      <Plot spec={protonSpec} />
      <Plot spec={heliumSpec} />
      {smallSpecs.map((s, i) => (
        <Plot key={i} spec={s} />
      ))}

      <svg width={1052} height={906} style={{ position: 'absolute', left: 0, top: 0, pointerEvents: 'none' }}>
        <text x={96} y={291} fontSize={15.5} fontFamily={SERIF}>Proton</text>
        <Legend items={protonLegend} rows={[299.7, 309.7, 319.7]} />
        <SupText x={42} y={395} fs={16} rotate />
        <text x={270} y={556} fontSize={15.5} fontFamily={SERIF} textAnchor="middle">Energy[GeV]</text>

        <text x={90} y={615} fontSize={15.5} fontFamily={SERIF}>Helium</text>
        <Legend items={heliumLegend} rows={[621, 633.7, 646.7]} />
        <SupText x={40} y={720} fs={16} rotate />
        <text x={267} y={880} fontSize={15.5} fontFamily={SERIF} textAnchor="middle">Energy[GeV]</text>

        {smallTitles.map((s) => (
          <g key={s.t}>
            <text x={s.x} y={s.y} fontSize={7.5} fontFamily={SERIF}>{s.t}</text>
            <text x={s.lx} y={s.ly} fontSize={6.7} fontFamily={SERIF} textAnchor="middle">Energy[GeV]</text>
            <SupText x={s.yx} y={s.yy} fs={6.1} rotate />
          </g>
        ))}
        <text x={610} y={879} fontSize={7.5} fontFamily={SERIF}>Fe</text>
      </svg>
    </div>
  )
}
